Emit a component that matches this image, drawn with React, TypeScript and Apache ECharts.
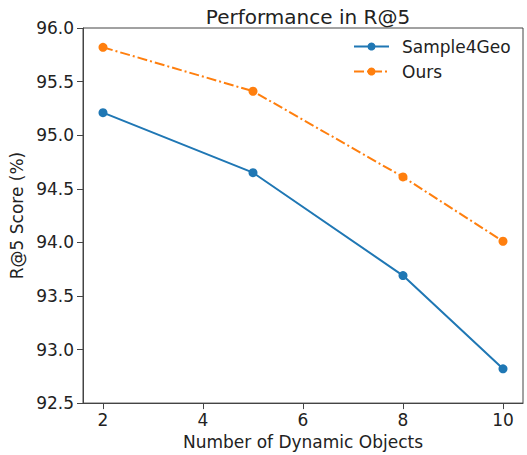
import React, { useEffect, useRef } from "react";
import * as echarts from "echarts";

const xValues = [2, 5, 8, 10];
const sample4GeoValues = [95.21, 94.65, 93.69, 92.82];
const oursValues = [95.82, 95.41, 94.61, 94.01];
const xTickValues = [2, 4, 6, 8, 10];
const seriesNames = ["Sample4Geo", "Ours"];

const FONT = "DejaVu Sans";

export default function App() {
  const ref = useRef<HTMLDivElement>(null);
  useEffect(() => {
    if (!ref.current) return;
    const chart = echarts.init(ref.current, undefined, { renderer: "svg" });
    chart.setOption({
      animation: false,
      backgroundColor: "#ffffff",
      textStyle: { fontFamily: FONT },
      title: {
        text: "Performance in R@5",
        left: 303,
        textAlign: "center",
        top: 2,
        textStyle: { fontFamily: FONT, fontSize: 20, fontWeight: "normal", color: "#222" },
      },
      legend: {
        orient: "vertical",
        left: 353,
        top: 38,
        padding: 0,
        itemWidth: 35,
        itemHeight: 10,
        itemGap: 8,
        data: seriesNames,
        textStyle: { fontFamily: FONT, fontSize: 17, color: "#222", padding: [0, 0, 0, 8] },
      },
      grid: {
        left: 83,
        right: 4,
        top: 28,
        bottom: 49,
        show: true,
        borderColor: "#444",
        borderWidth: 1,
        backgroundColor: "transparent",
      },
      xAxis: {
        type: "value",
        min: 1.6,
        max: 10.4,
        name: "Number of Dynamic Objects",
        nameLocation: "middle",
        nameGap: 27,
        nameTextStyle: { fontFamily: FONT, fontSize: 17, color: "#222" },
        axisLine: { show: true, lineStyle: { color: "#444", width: 1 } },
        axisTick: { show: true, length: 6, customValues: xTickValues, lineStyle: { color: "#444" } },
        axisLabel: {
          customValues: xTickValues,
          margin: 8,
          fontFamily: FONT,
          fontSize: 17,
          color: "#222",
        },
        splitLine: { show: false },
      },
      yAxis: {
        type: "value",
        min: 92.5,
        max: 96,
        interval: 0.5,
        name: "R@5 Score (%)",
        nameLocation: "middle",
        nameGap: 50,
        nameTextStyle: { fontFamily: FONT, fontSize: 17, color: "#222" },
        axisLine: { show: true, lineStyle: { color: "#444", width: 1 } },
        axisTick: { show: true, length: 6, lineStyle: { color: "#444" } },
        axisLabel: {
          margin: 9,
          fontFamily: FONT,
          fontSize: 17,
          color: "#222",
          formatter: (v: number) => v.toFixed(1),
        },
        splitLine: { show: false },
      },
      series: [
        {
          name: seriesNames[0],
          type: "line",
          data: xValues.map((x, i) => [x, sample4GeoValues[i]]),
          symbol: "circle",
          symbolSize: 9,
          color: "#1f77b4",
          lineStyle: { width: 2, color: "#1f77b4" },
          itemStyle: { color: "#1f77b4" },
        },
        {
          name: seriesNames[1],
          type: "line",
          data: xValues.map((x, i) => [x, oursValues[i]]),
          symbol: "circle",
          symbolSize: 9,
          color: "#ff7f0e",
          lineStyle: { width: 2, color: "#ff7f0e", type: [10, 3, 2, 3] },
          itemStyle: { color: "#ff7f0e" },
        },
      ],
    });
    return () => chart.dispose();
  }, []);
  return <div ref={ref} style={{ width: 527, height: 455, position: "fixed", left: 0, top: 0 }} />;
}
